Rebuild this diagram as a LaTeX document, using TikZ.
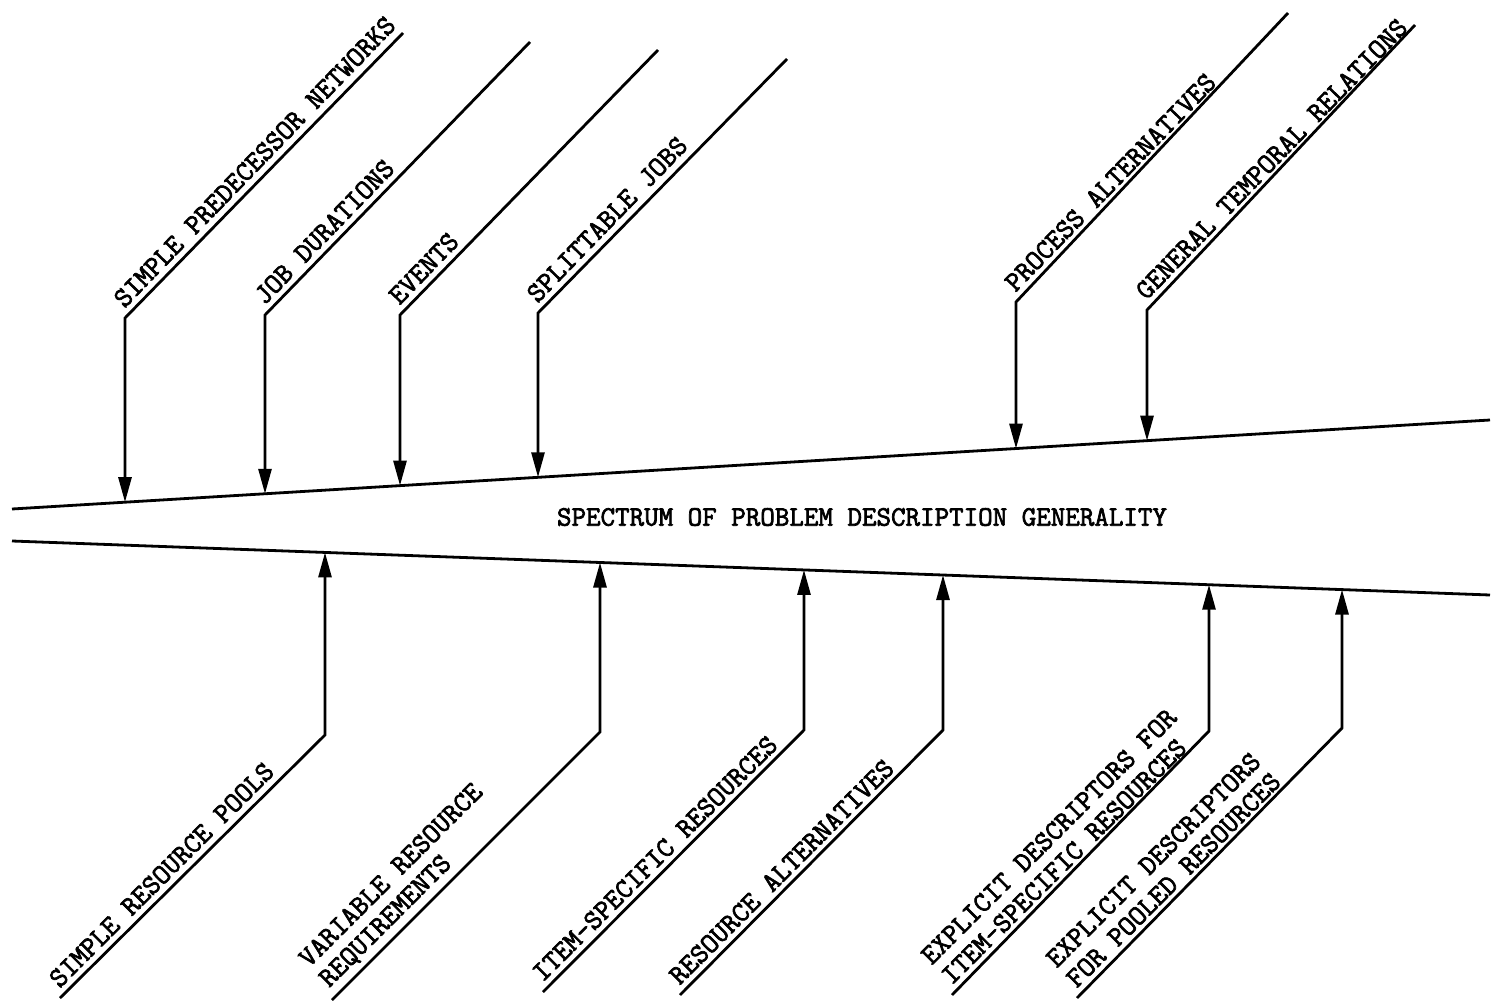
\documentclass[tikz,border=0pt]{standalone}
\usepackage{fontspec}
\setmonofont{Latin Modern Mono}[FakeBold=2.5]
\usepackage{tikz}
\usetikzlibrary{arrows.meta,positioning}
\newcommand{\specfont}{\ttfamily\fontsize{14.1}{14.2}\selectfont}

\begin{document}
\begin{tikzpicture}[x=0.5pt,y=-0.5pt,->,>={Triangle[length=12.5pt,width=6.5pt]},
                line width=1.4pt,
                lbl/.style={font=\specfont,anchor=south west,inner sep=2.5pt,align=left}]
            \useasboundingbox (0,0) rectangle (1494,1006);
            % the spectrum
            \coordinate (TL) at (12,509);
            \coordinate (TR) at (1490,420);
            \coordinate (BL) at (12,541);
            \coordinate (BR) at (1490,595);
            \draw [-] (TL) -- (TR);
            \draw [-] (BL) -- (BR);
            \node [font=\specfont] (spectrum) at (862,517) {SPECTRUM OF PROBLEM DESCRIPTION GENERALITY};
            % upper side
            \coordinate (u1e) at (403,33);   \coordinate (u1) at (125,318);  \coordinate (u1t) at (125,502.2);
            \coordinate (u2e) at (530,42);   \coordinate (u2) at (265,315);  \coordinate (u2t) at (265,493.8);
            \coordinate (u3e) at (658,50);   \coordinate (u3) at (400,315);  \coordinate (u3t) at (400,485.6);
            \coordinate (u4e) at (787,59);   \coordinate (u4) at (538,313);  \coordinate (u4t) at (538,477.3);
            \coordinate (u5e) at (1288,13);  \coordinate (u5) at (1016,302); \coordinate (u5t) at (1016,448.6);
            \coordinate (u6e) at (1415,25);  \coordinate (u6) at (1147,310); \coordinate (u6t) at (1147,440.7);
            \node [lbl,rotate=46] (net)    at (u1) {SIMPLE PREDECESSOR NETWORKS};
            \node [lbl,rotate=46] (dur)    at (u2) {JOB DURATIONS};
            \node [lbl,rotate=46] (events) at (u3) {EVENTS};
            \node [lbl,rotate=46] (split)  at (u4) {SPLITTABLE JOBS};
            \node [lbl,rotate=46] (palt)   at (u5) {PROCESS ALTERNATIVES};
            \node [lbl,rotate=46] (temp)   at (u6) {GENERAL TEMPORAL RELATIONS};
            \draw (u1e) -- (u1) -- (u1t);
            \draw (u2e) -- (u2) -- (u2t);
            \draw (u3e) -- (u3) -- (u3t);
            \draw (u4e) -- (u4) -- (u4t);
            \draw (u5e) -- (u5) -- (u5t);
            \draw (u6e) -- (u6) -- (u6t);
            % lower side
            \coordinate (l1e) at (60,998);   \coordinate (l1) at (325,735);  \coordinate (l1t) at (325,552.4);
            \coordinate (l2e) at (332,1000); \coordinate (l2) at (600,732);  \coordinate (l2t) at (600,562.5);
            \coordinate (l3e) at (543,992);  \coordinate (l3) at (804,730);  \coordinate (l3t) at (804,569.9);
            \coordinate (l4e) at (680,995);  \coordinate (l4) at (943,730);  \coordinate (l4t) at (943,575.0);
            \coordinate (l5e) at (952,995);  \coordinate (l5) at (1209,731); \coordinate (l5t) at (1209,584.7);
            \coordinate (l6e) at (1077,998); \coordinate (l6) at (1342,728); \coordinate (l6t) at (1342,589.5);
            \node [lbl,rotate=45] (pools)  at (l1e) {SIMPLE RESOURCE POOLS};
            \node [lbl,rotate=45] (req)    at (l2e) {VARIABLE RESOURCE\\REQUIREMENTS};
            \node [lbl,rotate=45] (item)   at (l3e) {ITEM-SPECIFIC RESOURCES};
            \node [lbl,rotate=45] (ralt)   at (l4e) {RESOURCE ALTERNATIVES};
            \node [lbl,rotate=45] (expi)   at (l5e) {EXPLICIT DESCRIPTORS FOR\\ITEM-SPECIFIC RESOURCES};
            \node [lbl,rotate=45] (expp)   at (l6e) {EXPLICIT DESCRIPTORS\\FOR POOLED RESOURCES};
            \draw (l1e) -- (l1) -- (l1t);
            \draw (l2e) -- (l2) -- (l2t);
            \draw (l3e) -- (l3) -- (l3t);
            \draw (l4e) -- (l4) -- (l4t);
            \draw (l5e) -- (l5) -- (l5t);
            \draw (l6e) -- (l6) -- (l6t);
        \end{tikzpicture}
\end{document}
